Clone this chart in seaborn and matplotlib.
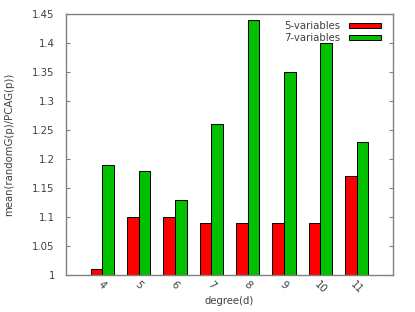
import pandas as pd
import matplotlib
matplotlib.use("Agg")
import matplotlib.pyplot as plt
import seaborn as sns

# values
degrees = ["4", "5", "6", "7", "8", "9", "10", "11"]
five_vars = [1.01, 1.10, 1.10, 1.09, 1.09, 1.09, 1.09, 1.17]
seven_vars = [1.19, 1.18, 1.13, 1.26, 1.44, 1.35, 1.40, 1.23]
series_names = ["5-variables", "7-variables"]
series_colors = ["#ff0000", "#00c000"]

df = pd.DataFrame({
    "degree": degrees * 2,
    "value": five_vars + seven_vars,
    "series": [series_names[0]] * len(degrees) + [series_names[1]] * len(degrees),
})

sns.set_style("white")
plt.rcParams["font.family"] = ["DejaVu Sans"]
text_color = "#404040"
fs = 7.3

fig, ax = plt.subplots(figsize=(4.15, 3.12), dpi=100)
fig.subplots_adjust(left=66 / 415, right=393 / 415, top=1 - 14 / 312, bottom=1 - 275 / 312)

sns.barplot(data=df, x="degree", y="value", hue="series", order=degrees,
            hue_order=series_names, palette=series_colors, width=0.64,
            edgecolor="black", linewidth=0.7, saturation=1, ax=ax)

ax.set_ylim(1, 1.45)
ax.set_xlim(-1, 8)
ax.set_yticks([1 + 0.05 * i for i in range(10)])
ax.set_yticklabels(["1", "1.05", "1.1", "1.15", "1.2", "1.25", "1.3", "1.35", "1.4", "1.45"])
ax.tick_params(axis="y", direction="in", length=3, width=0.8, color="#808080",
               labelsize=fs, labelcolor=text_color, right=True, left=True, pad=8)
ax.tick_params(axis="x", length=0, labelsize=fs, labelcolor=text_color, pad=3)
for lbl in ax.get_xticklabels():
    lbl.set_rotation(-45)
    lbl.set_ha("center")

for sp in ax.spines.values():
    sp.set_color("#808080")
    sp.set_linewidth(1.0)

ax.set_xlabel("degree(d)", fontsize=fs, color=text_color)
ax.set_ylabel("mean(randomG(p)/PCAG(p))", fontsize=fs, color=text_color)
ax.xaxis.set_label_coords(0.5, -0.082)
ax.yaxis.set_label_coords(-0.158, 0.5)

ax.legend(loc="upper right", frameon=False, markerfirst=False, fontsize=fs,
          labelcolor=text_color, handlelength=3.2, handleheight=0.4,
          labelspacing=0.2, handletextpad=0.8, borderaxespad=0.3,
          bbox_to_anchor=(0.985, 1.0))

fig.savefig("out.png", dpi=100)
